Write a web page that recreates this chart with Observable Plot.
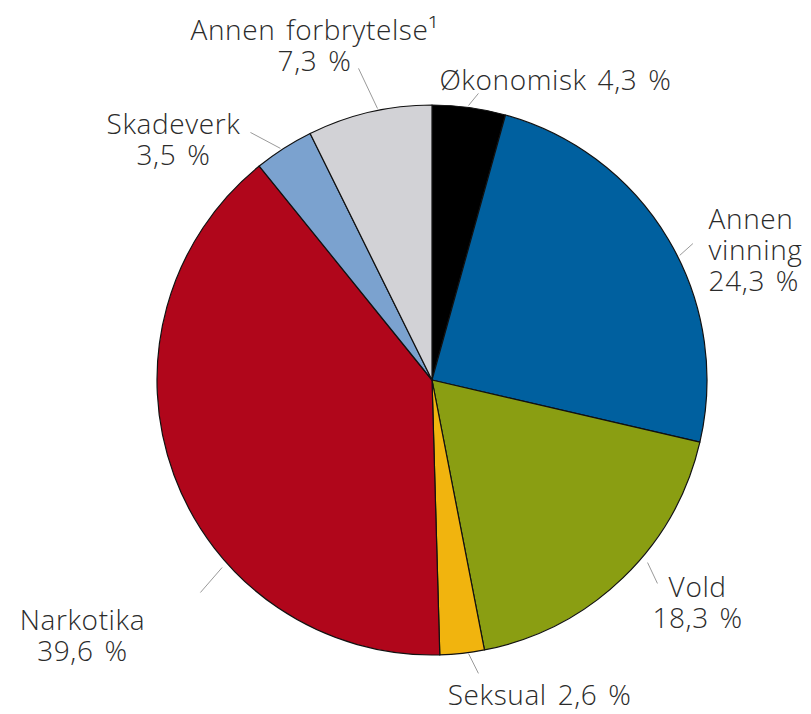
<!DOCTYPE html>
<html>
<head>
<meta charset="utf-8">
<script src="https://cdn.jsdelivr.net/npm/d3@7"></script>
<script src="https://cdn.jsdelivr.net/npm/@observablehq/plot@0.6"></script>
<style>
  html, body { margin: 0; padding: 0; background: #fff; }
  #chart svg { display: block; }
  #chart svg text { letter-spacing: 0.6px; word-spacing: 3px; }
</style>
</head>
<body>
<div id="chart"></div>
<script>
// ---- Data ----
const categories = ["Økonomisk", "Annen vinning", "Vold", "Seksual", "Narkotika", "Skadeverk", "Annen forbrytelse¹"];
const shares = [4.3, 24.3, 18.3, 2.6, 39.6, 3.5, 7.3];
const colors = ["#000000", "#00609f", "#8a9e12", "#f1b40e", "#b0061b", "#7ba2cf", "#d2d2d6"];

// ---- Label layout (in pie-radius units, origin at pie centre) ----
const labelBreaks = [" ", "\n", "\n", " ", "\n", "\n", "\n"];
const labelNameLines = ["Økonomisk", "Annen\nvinning", "Vold", "Seksual", "Narkotika", "Skadeverk", "Annen forbrytelse¹"];
const labelX = [0.025, 1.004, 0.964, 0.055, -1.273, -0.942, -0.429];
const labelY = [1.135, 0.629, -0.709, -1.100, -0.829, 0.975, 1.316];
const labelAnchor = ["start", "start", "middle", "start", "middle", "middle", "middle"];
const leaderX1 = [0.131, 0.899, 0.782, 0.131, -0.765, -0.553, -0.200];
const leaderY1 = [1.000, 0.455, -0.662, -0.993, -0.680, 0.844, 0.989];
const leaderX2 = [0.167, 0.947, 0.818, 0.167, -0.844, -0.662, -0.269];
const leaderY2 = [1.044, 0.498, -0.738, -1.065, -0.771, 0.902, 1.135];

const fmt = v => v.toFixed(1).replace(".", ",") + " %";
const rows = categories.map((c, i) => ({category: c, share: shares[i], color: colors[i]}));
const labels = categories.map((c, i) => ({
  text: labelNameLines[i] + labelBreaks[i] + fmt(shares[i]),
  x: labelX[i], y: labelY[i], anchor: labelAnchor[i]
}));
const leaders = categories.map((c, i) => ({x1: leaderX1[i], y1: leaderY1[i], x2: leaderX2[i], y2: leaderY2[i]}));

const W = 811, H = 714, R = 275, CX = 432, CY = 380;

function pieMark(index, scales, values, dimensions, context) {
  const x = scales.x, y = scales.y;
  const cx = x(0), cy = y(0), r = x(1) - x(0);
  const arcs = d3.pie().sort(null).value(d => d.share)(rows);
  const arc = d3.arc().innerRadius(0).outerRadius(r);
  const g = d3.create("svg:g").attr("transform", `translate(${cx},${cy})`);
  g.selectAll("path").data(arcs).join("path")
    .attr("d", arc)
    .attr("fill", d => d.data.color)
    .attr("stroke", "#111")
    .attr("stroke-width", 1.2)
    .attr("stroke-linejoin", "round");
  return g.node();
}

const fs = 28;
const chart = Plot.plot({
  width: W, height: H,
  margin: 0,
  x: {domain: [-CX / R, (W - CX) / R], axis: null},
  y: {domain: [-(H - CY) / R, CY / R], axis: null},
  style: {fontFamily: "'Open Sans', sans-serif", background: "#fff"},
  marks: [
    pieMark,
    Plot.link(leaders, {x1: "x1", y1: "y1", x2: "x2", y2: "y2", stroke: "#9a9a9a", strokeWidth: 1}),
    ...["start", "middle"].map(a => Plot.text(labels.filter(d => d.anchor === a), {
      x: "x", y: "y", text: "text",
      textAnchor: a, lineAnchor: "top",
      fontSize: fs, fontWeight: 300, lineHeight: 1.1,
      fill: "#2b2b2b"
    }))
  ]
});
document.getElementById("chart").append(chart);
</script>
</body>
</html>
